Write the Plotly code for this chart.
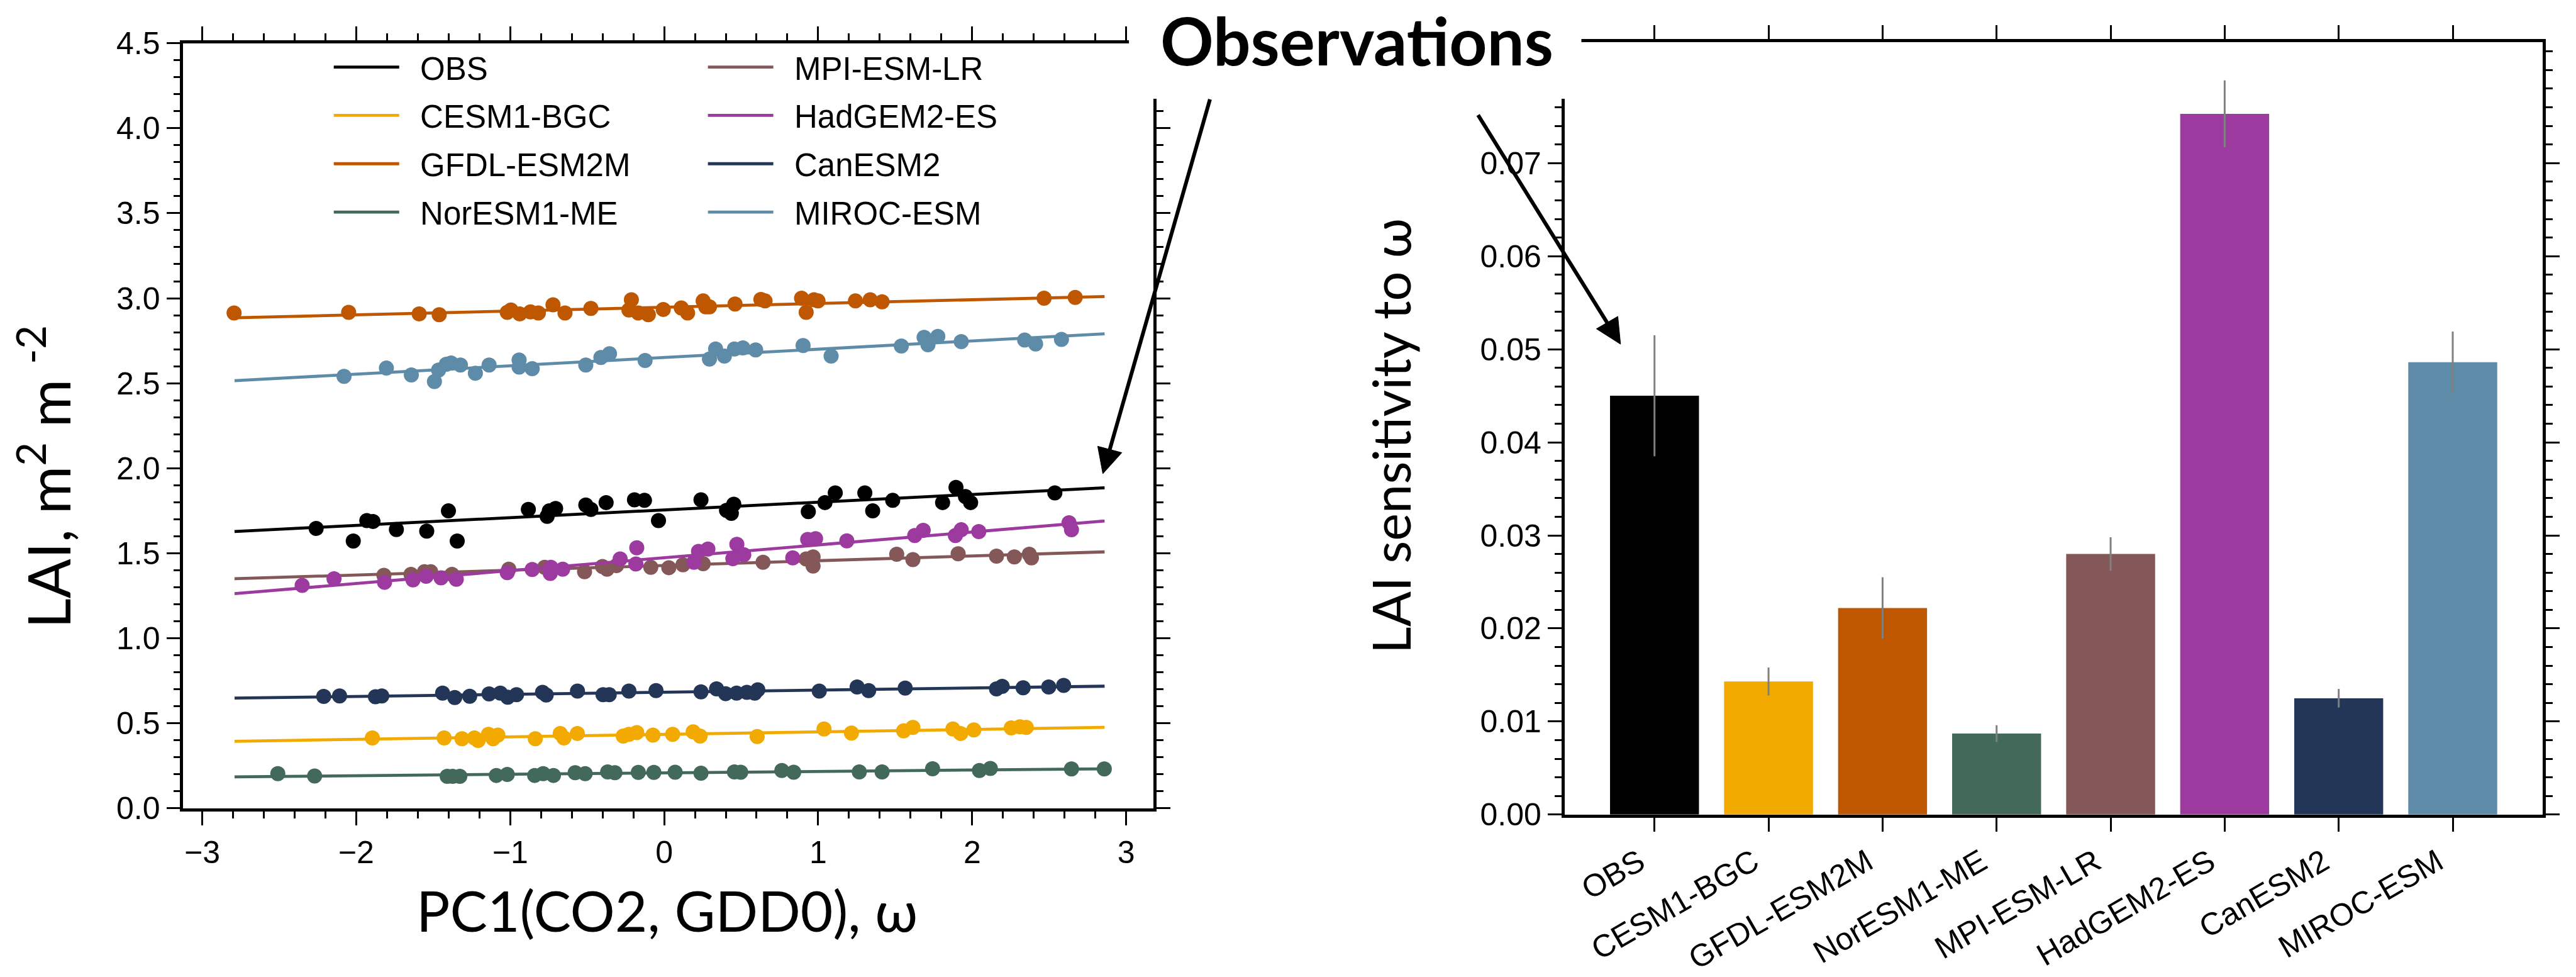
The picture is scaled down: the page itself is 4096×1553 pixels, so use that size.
import math
import plotly.graph_objects as go

# ---------------- data ----------------
MODELS = ["OBS", "CESM1-BGC", "GFDL-ESM2M", "NorESM1-ME",
          "MPI-ESM-LR", "HadGEM2-ES", "CanESM2", "MIROC-ESM"]
COLORS = ["#000000", "#F2AA00", "#BF5700", "#43695B",
          "#845858", "#9C3A9F", "#233657", "#5E8CA8"]

OBS_X = [-2.260, -2.019, -1.931, -1.891, -1.739, -1.542, -1.401, -1.344, -0.882,
         -0.760, -0.746, -0.705, -0.509, -0.476, -0.377, -0.193, -0.128, -0.037,
         0.239, 0.405, 0.436, 0.452, 0.936, 1.044, 1.111, 1.303, 1.354, 1.484,
         1.808, 1.895, 1.956, 1.990, 2.537]
OBS_Y = [1.646, 1.572, 1.692, 1.687, 1.639, 1.630, 1.749, 1.572, 1.758,
         1.717, 1.749, 1.763, 1.784, 1.758, 1.798, 1.814, 1.811, 1.692,
         1.814, 1.752, 1.735, 1.788, 1.745, 1.798, 1.855, 1.855, 1.749, 1.811,
         1.798, 1.887, 1.834, 1.798, 1.855]

CESM_X = [-1.895, -1.429, -1.313, -1.232, -1.208, -1.141, -1.111, -1.080, -0.837,
          -0.675, -0.651, -0.564, -0.266, -0.229, -0.178, -0.073, 0.055, 0.188,
          0.233, 0.604, 1.038, 1.216, 1.555, 1.615, 1.875, 1.925, 2.011, 2.254,
          2.310, 2.351]
CESM_Y = [0.414, 0.414, 0.409, 0.414, 0.399, 0.435, 0.409, 0.430, 0.409,
          0.440, 0.414, 0.440, 0.425, 0.435, 0.445, 0.430, 0.435, 0.450,
          0.425, 0.422, 0.466, 0.442, 0.455, 0.476, 0.466, 0.440, 0.461, 0.473,
          0.479, 0.476]

GFDL_X = [-2.793, -2.049, -1.591, -1.461, -1.019, -0.995, -0.938, -0.868, -0.817,
          -0.722, -0.644, -0.476, -0.213, -0.229, -0.168, -0.103, -0.006, 0.111,
          0.152, 0.253, 0.270, 0.294, 0.460, 0.628, 0.655, 0.892, 0.922, 0.973,
          0.999, 1.242, 1.338, 1.415, 2.467, 2.669]
GFDL_Y = [2.913, 2.917, 2.908, 2.903, 2.917, 2.931, 2.908, 2.920, 2.913,
          2.961, 2.913, 2.940, 2.991, 2.931, 2.913, 2.903, 2.934, 2.943,
          2.913, 2.984, 2.949, 2.949, 2.966, 2.993, 2.984, 3.000, 2.917, 2.991,
          2.984, 2.984, 2.991, 2.979, 3.000, 3.005]

NOR_X = [-2.509, -2.270, -1.409, -1.374, -1.327, -1.090, -1.019, -0.841, -0.786,
         -0.719, -0.578, -0.513, -0.367, -0.320, -0.168, -0.067, 0.071, 0.239,
         0.456, 0.497, 0.764, 0.841, 1.267, 1.415, 1.743, 2.047, 2.118, 2.645,
         2.858]
NOR_Y = [0.204, 0.190, 0.188, 0.188, 0.188, 0.193, 0.199, 0.193, 0.204,
         0.193, 0.209, 0.204, 0.214, 0.209, 0.211, 0.211, 0.212, 0.206,
         0.214, 0.212, 0.222, 0.212, 0.214, 0.214, 0.232, 0.222, 0.234, 0.231,
         0.231]

MPI_X = [-1.820, -1.644, -1.557, -1.516, -1.378, -1.009, -0.776, -0.517, -0.401,
         -0.371, -0.310, -0.087, 0.030, 0.122, 0.253, 0.642, 0.922, 0.967,
         0.967, 1.510, 1.615, 1.909, 2.158, 2.274, 2.371, 2.385]
MPI_Y = [1.370, 1.376, 1.391, 1.391, 1.376, 1.406, 1.417, 1.391, 1.422,
         1.406, 1.427, 1.417, 1.415, 1.432, 1.439, 1.447, 1.466, 1.478,
         1.425, 1.494, 1.463, 1.497, 1.483, 1.478, 1.494, 1.473]

HAD_X = [-2.351, -2.144, -1.816, -1.631, -1.546, -1.449, -1.350, -1.019, -0.857,
         -0.736, -0.740, -0.659, -0.286, -0.178, -0.184, 0.193, 0.223, 0.284,
         0.472, 0.446, 0.517, 0.835, 0.932, 0.983, 1.186, 1.627, 1.682, 1.891,
         1.929, 2.043, 2.629, 2.645]
HAD_Y = [1.311, 1.350, 1.329, 1.343, 1.365, 1.355, 1.347, 1.386, 1.404,
         1.417, 1.381, 1.406, 1.466, 1.532, 1.437, 1.447, 1.511, 1.525,
         1.552, 1.468, 1.491, 1.473, 1.581, 1.586, 1.573, 1.604, 1.635, 1.604,
         1.638, 1.627, 1.679, 1.638]

CAN_X = [-2.211, -2.108, -1.875, -1.834, -1.439, -1.360, -1.263, -1.137, -1.064,
         -1.016, -0.959, -0.790, -0.766, -0.563, -0.397, -0.357, -0.229, -0.053,
         0.239, 0.340, 0.399, 0.470, 0.537, 0.608, 0.588, 1.007, 1.253, 1.328,
         1.565, 2.158, 2.195, 2.331, 2.497, 2.594]
CAN_Y = [0.658, 0.661, 0.656, 0.661, 0.677, 0.651, 0.659, 0.673, 0.677,
         0.653, 0.668, 0.682, 0.666, 0.689, 0.668, 0.668, 0.689, 0.692,
         0.685, 0.702, 0.674, 0.677, 0.682, 0.697, 0.677, 0.689, 0.713, 0.692,
         0.707, 0.702, 0.717, 0.709, 0.713, 0.723]

MIROC_X = [-2.079, -1.804, -1.642, -1.492, -1.465, -1.415, -1.384, -1.323, -1.226,
           -1.137, -0.942, -0.942, -0.857, -0.509, -0.411, -0.355, -0.124, 0.294,
           0.334, 0.391, 0.456, 0.511, 0.594, 0.902, 1.084, 1.540, 1.688, 1.713,
           1.777, 1.929, 2.341, 2.412, 2.580]
MIROC_Y = [2.540, 2.589, 2.549, 2.510, 2.577, 2.612, 2.619, 2.607, 2.559,
           2.607, 2.637, 2.595, 2.586, 2.607, 2.651, 2.674, 2.634, 2.642,
           2.701, 2.660, 2.701, 2.708, 2.696, 2.722, 2.660, 2.719, 2.770, 2.726,
           2.775, 2.745, 2.754, 2.731, 2.758]

SCATTER_X = [OBS_X, CESM_X, GFDL_X, NOR_X, MPI_X, HAD_X, CAN_X, MIROC_X]
SCATTER_Y = [OBS_Y, CESM_Y, GFDL_Y, NOR_Y, MPI_Y, HAD_Y, CAN_Y, MIROC_Y]

# regression lines (end points)
FIT_X = [-2.79, 2.86]
FIT_Y_START = [1.628, 0.394, 2.885, 0.185, 1.350, 1.262, 0.648, 2.515]
FIT_Y_END = [1.885, 0.476, 3.010, 0.232, 1.508, 1.690, 0.718, 2.791]

# LAI sensitivity to omega (bar chart)
SENS = [0.0450, 0.0143, 0.0222, 0.0087, 0.0280, 0.0753, 0.0125, 0.0486]
SENS_ERR = [0.0065, 0.0015, 0.0033, 0.0009, 0.0018, 0.0036, 0.0010, 0.0033]

# tick labels
Y1_TICKS = [0.0, 0.5, 1.0, 1.5, 2.0, 2.5, 3.0, 3.5, 4.0, 4.5]
Y1_TICKTEXT = ["0.0", "0.5", "1.0", "1.5", "2.0", "2.5", "3.0", "3.5", "4.0", "4.5"]
Y2_TICKS = [0.00, 0.01, 0.02, 0.03, 0.04, 0.05, 0.06, 0.07]
Y2_TICKTEXT = ["0.00", "0.01", "0.02", "0.03", "0.04", "0.05", "0.06", "0.07"]

# ---------------- figure ----------------
W, H = 4096, 1553
RW, RH = 4737.0, 1796.0


def fx(px):
    return px / RW


def fy(py):
    return 1 - py / RH


TICKFONT = "Liberation Sans"
TITLEFONT = "Lato"
AXW = 4.7
TW = 2.6
TL = 22
MTL = 11
NB = "\u00a0"

fig = go.Figure()
for i, m in enumerate(MODELS):
    fig.add_trace(go.Scatter(
        x=SCATTER_X[i], y=SCATTER_Y[i], mode="markers",
        marker=dict(color=COLORS[i], size=24, line=dict(width=0)),
        showlegend=False, hoverinfo="skip", xaxis="x", yaxis="y"))
    fig.add_trace(go.Scatter(
        x=FIT_X, y=[FIT_Y_START[i], FIT_Y_END[i]], mode="lines",
        line=dict(color=COLORS[i], width=4.8), name=NB + NB + m,
        legend="legend" if i < 4 else "legend2", legendgroup=m,
        xaxis="x", yaxis="y"))

fig.add_trace(go.Bar(
    x=MODELS, y=SENS, marker=dict(color=COLORS, line=dict(width=0)),
    width=0.78, showlegend=False,
    error_y=dict(type="data", array=SENS_ERR, color="#808080",
                 thickness=3, width=0),
    xaxis="x2", yaxis="y2"))

common = dict(showline=True, linewidth=AXW, linecolor="black", mirror="ticks",
              ticks="outside", ticklen=TL, tickwidth=TW, tickcolor="black",
              showgrid=False, zeroline=False,
              tickfont=dict(family=TICKFONT, size=50, color="black"))

legend_common = dict(xanchor="left", yanchor="top", bgcolor="rgba(0,0,0,0)",
                     borderwidth=0, itemwidth=104, tracegroupgap=7.5,
                     traceorder="grouped",
                     font=dict(family=TICKFONT, size=51, color="black"))

fig.update_layout(
    width=W, height=H,
    margin=dict(l=0, r=0, t=0, b=0),
    paper_bgcolor="white", plot_bgcolor="white",
    xaxis=dict(domain=[fx(337), fx(2121)], anchor="y", range=[-3.123, 3.177],
               tick0=0, dtick=1,
               minor=dict(dtick=0.2, ticks="outside", ticklen=MTL,
                          tickwidth=TW, tickcolor="black", showgrid=False),
               **common),
    yaxis=dict(domain=[fy(1509), fy(50)], anchor="x", range=[0, 4.5],
               tickmode="array", tickvals=Y1_TICKS, ticktext=Y1_TICKTEXT,
               minor=dict(tick0=0, dtick=0.1, ticks="outside", ticklen=MTL,
                          tickwidth=TW, tickcolor="black", showgrid=False),
               **common),
    xaxis2=dict(domain=[fx(2877), fx(4676)], anchor="y2", type="category",
                range=[-0.789, 7.79], tickangle=-30, ticklabelshift=-24,
                **common),
    yaxis2=dict(domain=[fy(1521), fy(48)], anchor="x2", range=[0, 0.083],
                tickmode="array", tickvals=Y2_TICKS, ticktext=Y2_TICKTEXT,
                minor=dict(tick0=0, dtick=0.002, ticks="outside", ticklen=MTL,
                           tickwidth=TW, tickcolor="black", showgrid=False),
                **common),
    legend=dict(x=fx(608), y=fy(48), **legend_common),
    legend2=dict(x=fx(1296), y=fy(48), **legend_common),
)

# white box behind the "Observations" label (hides frame parts like the original)
shapes = [dict(type="rect", xref="paper", yref="paper",
               x0=fx(2076), x1=fx(2908), y0=fy(156), y1=1.02,
               fillcolor="white", line=dict(width=0), layer="above")]


def arrow(tail, tip, head_len=48.0, head_half=23.0, lw=6.0):
    (tx, ty), (hx, hy) = tail, tip
    dx, dy = hx - tx, hy - ty
    d = math.hypot(dx, dy)
    ux, uy = dx / d, dy / d
    nx, ny = -uy, ux
    bx, by = hx - ux * head_len, hy - uy * head_len
    out = [dict(type="line", xref="paper", yref="paper",
                x0=fx(tx), y0=fy(ty), x1=fx(bx + ux * 4), y1=fy(by + uy * 4),
                line=dict(color="black", width=lw), layer="above")]
    p1 = (bx + nx * head_half, by + ny * head_half)
    p2 = (bx - nx * head_half, by - ny * head_half)
    path = "M{:.5f},{:.5f} L{:.5f},{:.5f} L{:.5f},{:.5f} Z".format(
        fx(hx), fy(hy), fx(p1[0]), fy(p1[1]), fx(p2[0]), fy(p2[1]))
    out.append(dict(type="path", xref="paper", yref="paper", path=path,
                    fillcolor="black", line=dict(color="black", width=1),
                    layer="above"))
    return out


shapes += arrow((2225, 157), (2028, 871))
shapes += arrow((2718, 187), (2980, 624))
fig.update_layout(shapes=shapes)

ann = []
ann.append(dict(text="<b>Observations</b>", x=fx(2495), y=fy(43),
                xref="paper", yref="paper", showarrow=False,
                xanchor="center", yanchor="middle",
                font=dict(family=TITLEFONT, size=105, color="black")))
# axis titles
ann.append(dict(text="PC1(CO2, GDD0), \u03c9", x=fx(1226), y=fy(1703),
                xref="paper", yref="paper", showarrow=False,
                xanchor="center", yanchor="middle",
                font=dict(family=TITLEFONT, size=89, color="black")))
ann.append(dict(text="LAI, m<sup>2</sup> m <sup>-2</sup>",
                x=fx(82), y=fy(877),
                xref="paper", yref="paper", showarrow=False, textangle=-90,
                xanchor="center", yanchor="middle",
                font=dict(family=TITLEFONT, size=93, color="black")))
ann.append(dict(text="LAI sensitivity to \u03c9", x=fx(2557), y=fy(799),
                xref="paper", yref="paper", showarrow=False, textangle=-90,
                xanchor="center", yanchor="middle",
                font=dict(family=TITLEFONT, size=83, color="black")))
fig.update_layout(annotations=ann)

fig.write_html("out.html")
